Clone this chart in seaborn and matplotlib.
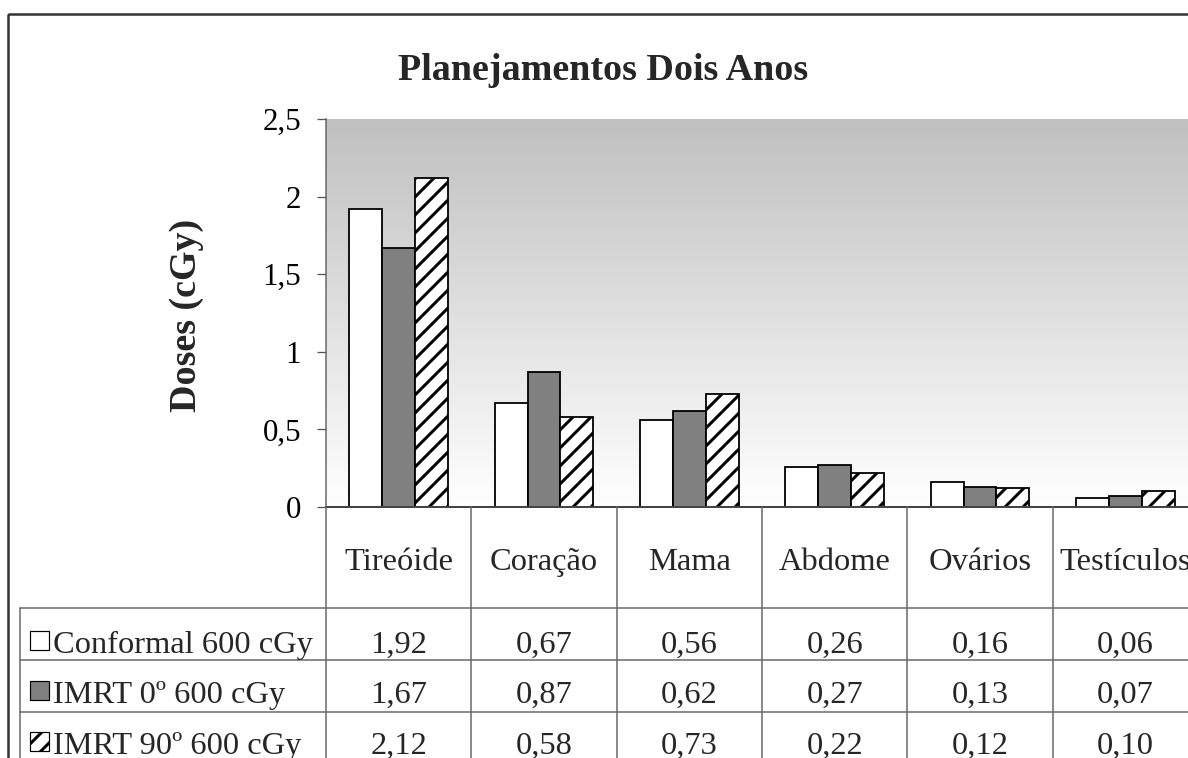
import numpy as np
import pandas as pd
import matplotlib
matplotlib.use("Agg")
import matplotlib.pyplot as plt
import matplotlib.transforms as mtransforms
from matplotlib.patches import Rectangle
from matplotlib.lines import Line2D
from matplotlib.colors import LinearSegmentedColormap
import seaborn as sns

# ---- data -------------------------------------------------------------
organs = ["Tireóide", "Coração", "Mama", "Abdome", "Ovários", "Testículos"]
series = ["Conformal 600 cGy", "IMRT 0º 600 cGy", "IMRT 90º 600 cGy"]
conformal = [1.92, 0.67, 0.56, 0.26, 0.16, 0.06]
imrt_0 = [1.67, 0.87, 0.62, 0.27, 0.13, 0.07]
imrt_90 = [2.12, 0.58, 0.73, 0.22, 0.12, 0.10]
y_ticks = [0, 0.5, 1, 1.5, 2, 2.5]
title = "Planejamentos Dois Anos"
y_label = "Doses (cGy)"

values = [conformal, imrt_0, imrt_90]
df = pd.DataFrame({
    "organ": [o for _ in series for o in organs],
    "serie": [s for s in series for _ in organs],
    "dose": [v for vals in values for v in vals],
})

# ---- figure geometry (pixel based) -----------------------------------
DPI = 108
W, H = 1188, 758


def pt(px):
    """pixels -> points at the figure dpi"""
    return px * 72.0 / DPI


sns.set_theme(style="white")
plt.rcParams["font.family"] = ["Liberation Serif", "DejaVu Serif"]
plt.rcParams["hatch.linewidth"] = pt(3.0)
plt.rcParams["hatch.color"] = "black"

fig = plt.figure(figsize=(W / DPI, H / DPI), dpi=DPI)
fig.patch.set_facecolor("white")

# pixel coordinates with origin at the top-left corner
pix = mtransforms.Affine2D().scale(1.0 / W, -1.0 / H).translate(0, 1) + fig.transFigure

ax_left, ax_right, ax_top, ax_bottom = 326, 1198, 119, 507
ax = fig.add_axes([ax_left / W, 1 - ax_bottom / H,
                   (ax_right - ax_left) / W, (ax_bottom - ax_top) / H])

# gray-to-white gradient behind the bars
grad_cmap = LinearSegmentedColormap.from_list("plotbg", ["#ffffff", "#c0c0c0"])
ax.imshow(np.linspace(0, 1, 256).reshape(-1, 1), cmap=grad_cmap, origin="lower",
          extent=(0, 1, 0, 1), transform=ax.transAxes, aspect="auto", zorder=0)

palette = ["#ffffff", "#808080", "#ffffff"]
sns.barplot(data=df, x="organ", y="dose", hue="serie", order=organs,
            hue_order=series, palette=palette, width=0.68, edgecolor="black",
            linewidth=pt(1.8), saturation=1, legend=False, ax=ax, zorder=2)
for bar in ax.containers[2]:
    bar.set_hatch("//")

ax.set_xlim(-0.5, len(organs) - 0.5)
ax.set_ylim(0, 2.5)
ax.set_yticks(y_ticks)
ax.set_yticklabels([f"{t:g}".replace(".", ",") for t in y_ticks])
ax.set_xticks([])
ax.set_xlabel("")
ax.set_ylabel("")
ax.tick_params(axis="y", direction="out", length=pt(9), width=pt(1.3),
               color="#555555", pad=pt(16), labelsize=pt(31), labelcolor="black",
               left=True)
for side in ["top", "right"]:
    ax.spines[side].set_visible(False)
ax.spines["left"].set_color("#666666")
ax.spines["left"].set_linewidth(pt(1.5))
ax.spines["bottom"].set_color("#444444")
ax.spines["bottom"].set_linewidth(pt(2))

# ---- title and axis label --------------------------------------------
fig.text(603, 80, title, transform=pix, ha="center", va="baseline",
         fontsize=pt(38), fontweight="bold")
fig.text(187, 315, y_label, transform=pix, ha="center", va="center",
         rotation=90, fontsize=pt(38), fontweight="bold")

# ---- data table below the axis ---------------------------------------
col_x = mtransforms.blended_transform_factory(ax.transData, pix)
line_kw = dict(color="#666666", linewidth=pt(1.5))
table_left = 20
row_lines = [608, 660, 712, 764]
for i in range(len(organs) + 1):
    fig.add_artist(Line2D([i - 0.5, i - 0.5], [ax_bottom, H + 10],
                          transform=col_x, **line_kw))
for y in row_lines:
    fig.add_artist(Line2D([table_left, W + 20], [y, y], transform=pix, **line_kw))
fig.add_artist(Line2D([table_left, table_left], [row_lines[0], H + 10],
                      transform=pix, **line_kw))

for i, organ in enumerate(organs):
    fig.text(i, 570, organ, transform=col_x, ha="center", va="baseline",
             fontsize=pt(32.5))

baselines = [653, 703, 754]
key_style = [dict(facecolor="#ffffff", hatch=None),
             dict(facecolor="#808080", hatch=None),
             dict(facecolor="#ffffff", hatch="//")]
for r, (name, vals) in enumerate(zip(series, values)):
    base = baselines[r]
    key = Rectangle((30, base - 22), 19, 19, transform=pix, edgecolor="black",
                    linewidth=pt(1.2), **key_style[r])
    fig.add_artist(key)
    fig.text(53, base, name, transform=pix, ha="left", va="baseline",
             fontsize=pt(32.5))
    for i, v in enumerate(vals):
        fig.text(i, base, f"{v:.2f}".replace(".", ","), transform=col_x,
                 ha="center", va="baseline", fontsize=pt(32.5))

# outer chart frame
fig.add_artist(Rectangle((8, 14), W + 40, H + 40, transform=pix, fill=False,
                         edgecolor="#333333", linewidth=pt(2.5)))

fig.savefig("out.png", dpi=DPI)
